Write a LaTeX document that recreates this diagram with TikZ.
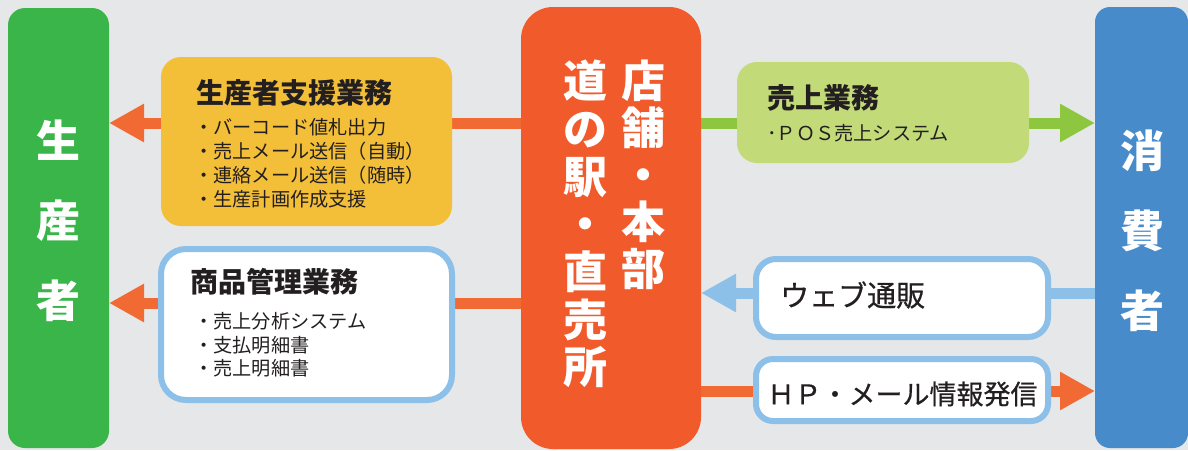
\documentclass[tikz,border=0pt]{standalone}
\usepackage{fontspec}
\setmainfont{Noto Sans CJK JP}
\newfontfamily\medfont{Noto Sans CJK JP}[FakeBold=0.5]
\usetikzlibrary{arrows.meta}
\pgfdeclarelayer{back}
\pgfdeclarelayer{edges}
\pgfsetlayers{back,edges,main}
\definecolor{bggray}{HTML}{E6E7E8}
\definecolor{colgreen}{HTML}{3AB54A}
\definecolor{hubor}{HTML}{F15A2B}
\definecolor{arror}{HTML}{F26A33}
\definecolor{colblue}{HTML}{478BCA}
\definecolor{boxyel}{HTML}{F3BF38}
\definecolor{boxlgr}{HTML}{C2DA77}
\definecolor{arrgr}{HTML}{8DC63F}
\definecolor{ltblue}{HTML}{8CC0E8}
\definecolor{ink}{HTML}{231F20}
\begin{document}
\begin{tikzpicture}[x=1pt,y=-1pt,
  colbox/.style={inner sep=0pt, outer sep=0pt, draw=none},
  fillbox/.style={inner sep=0pt, outer sep=0pt, draw=none, rounded corners=20pt},
  framebox/.style={inner sep=0pt, outer sep=0pt, fill=white, draw=ltblue, line width=6pt},
  bigtext/.style={text=white, font=\bfseries\fontsize{44}{#1}\selectfont, align=center, inner sep=0pt},
  titletext/.style={anchor=west, inner sep=0pt, text=ink, font=\bfseries\fontsize{28}{28}\selectfont},
  itemtext/.style={anchor=west, inner sep=0pt, text=ink, align=left, font=\fontsize{19.2}{#1}\selectfont},
  conn/.style={line width=11pt, -{Triangle[length=35pt,width=36pt]}}]
\begin{pgfonlayer}{back}
\fill[bggray] (0,0) rectangle (1188,450);
\end{pgfonlayer}
\useasboundingbox (0,0) rectangle (1188,450);

% columns
\node[colbox, fill=colgreen, rounded corners=17pt, minimum width=101pt, minimum height=440pt] (prod) at (58.5,228) {};
\node[colbox, fill=hubor, rounded corners=32pt, minimum width=180pt, minimum height=442pt] (hub) at (611,228) {};
\node[colbox, fill=colblue, rounded corners=15pt, minimum width=93pt, minimum height=441pt] (cons) at (1141.5,227.5) {};

\node[bigtext=80] (prodtxt) at (58.5,221) {生\\産\\者};
\node[bigtext=80] (constxt) at (1142,231) {消\\費\\者};
\node[bigtext=47] (hubR) at (643,175) {店\\舗\\・\\本\\部};
\node[bigtext=47.7] (hubL) at (585,224) {道\\の\\駅\\・\\直\\売\\所};

% boxes
\node[fillbox, fill=boxyel, minimum width=291pt, minimum height=169pt] (support) at (306.5,141.5) {};
\node[titletext] (supportT) at (196,93) {生産者支援業務};
\node[itemtext=24] (supportI) at (194,163) {・バーコード値札出力\\・売上メール送信（自動）\\・連絡メール送信（随時）\\・生産計画作成支援};

\node[framebox, rounded corners=25pt, minimum width=291pt, minimum height=151pt] (goods) at (306.5,324.5) {};
\node[titletext] (goodsT) at (190,282) {商品管理業務};
\node[itemtext=23.5] (goodsI) at (194,345) {・売上分析システム\\・支払明細書\\・売上明細書};

\node[fillbox, fill=boxlgr, minimum width=292pt, minimum height=101pt] (sales) at (883,112.5) {};
\node[titletext] (salesT) at (767,98) {売上業務};
\node[itemtext=20] (salesI) at (767,133) {･ＰＯＳ売上システム};

\node[framebox, rounded corners=20pt, minimum width=292pt, minimum height=78pt] (web) at (902,298) {};
\node[anchor=west, inner sep=0pt, text=ink, font=\medfont\fontsize{29}{29}\selectfont] (webT) at (780,295) {ウェブ通販};

\node[framebox, rounded corners=17pt, minimum width=292pt, minimum height=62pt] (hp) at (902,390) {};
\node[inner sep=0pt, text=ink, font=\medfont\fontsize{27}{27}\selectfont] (hpT) at (902.5,394) {ＨＰ・メール情報発信};

% connectors
\coordinate (yTop) at (0,123);
\coordinate (yMid) at (0,303);
\coordinate (yWeb) at (0,293);
\coordinate (yHP) at (0,391);
\begin{pgfonlayer}{edges}
\draw[conn, arror] (hub.west |- yTop) -- (prod.east |- yTop);
\draw[conn, arror] (hub.west |- yMid) -- (prod.east |- yMid);
\draw[conn, arrgr] (hub.east |- yTop) -- (cons.west |- yTop);
\draw[conn, ltblue] (cons.west |- yWeb) -- (hub.east |- yWeb);
\draw[conn, arror] (hub.east |- yHP) -- (cons.west |- yHP);
\end{pgfonlayer}
\end{tikzpicture}
\end{document}
